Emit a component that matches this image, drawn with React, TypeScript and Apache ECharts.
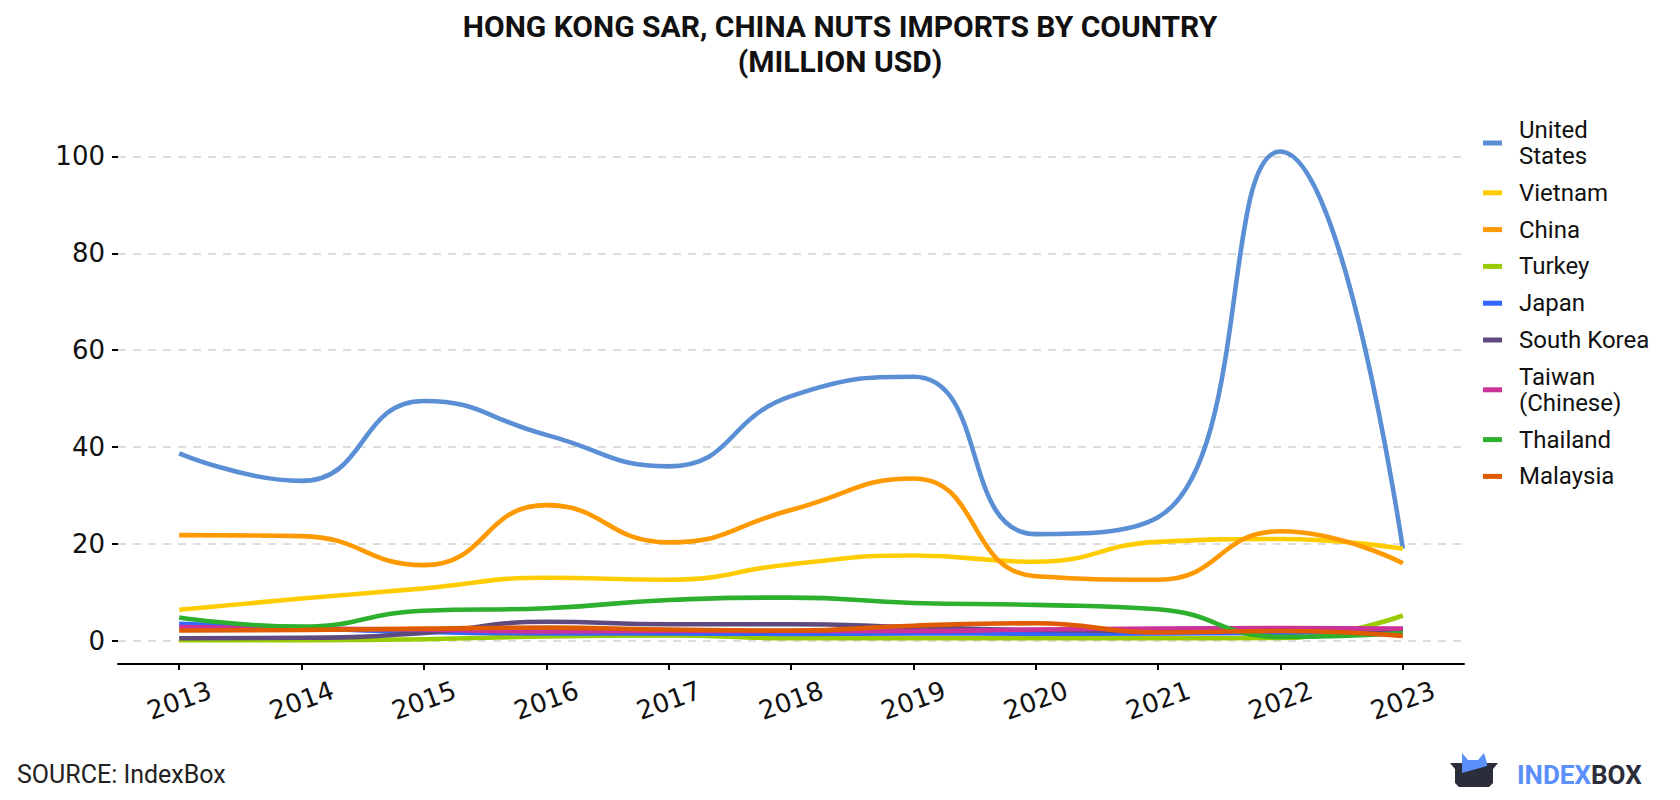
import React, { useEffect, useRef } from "react";
import * as echarts from "echarts";

const years = ["2013", "2014", "2015", "2016", "2017", "2018", "2019", "2020", "2021", "2022", "2023"];
const yTicks = [0, 20, 40, 60, 80, 100];

const seriesNames = ["United States", "Vietnam", "China", "Turkey", "Japan", "South Korea", "Taiwan (Chinese)", "Thailand", "Malaysia"];
const seriesColors = ["#5a8fd5", "#ffcc00", "#ff9900", "#99cc00", "#3366ff", "#5e4a7e", "#cc3399", "#2db02d", "#e05a00"];

const unitedStates = [38.7, 33.0, 49.5, 42.5, 36.0, 50.5, 54.5, 22.0, 25.5, 101.0, 19.0];
const vietnam = [6.4, 8.7, 10.8, 13.0, 12.6, 15.8, 17.6, 16.3, 20.4, 21.0, 19.0];
const china = [21.8, 21.6, 15.6, 28.0, 20.3, 27.0, 33.5, 13.3, 12.6, 22.6, 16.0];
const turkey = [0.1, 0.1, 0.3, 0.9, 1.1, 0.5, 0.5, 0.5, 0.5, 0.55, 5.2];
const japan = [3.5, 2.6, 1.8, 1.5, 1.5, 1.4, 1.5, 1.45, 1.5, 1.6, 2.4];
const southKorea = [0.5, 0.6, 1.6, 3.9, 3.4, 3.4, 2.8, 2.2, 2.0, 2.1, 2.2];
const taiwan = [2.8, 2.5, 2.3, 1.9, 2.0, 2.0, 2.0, 2.3, 2.5, 2.6, 2.5];
const thailand = [4.8, 2.9, 6.2, 6.7, 8.4, 8.9, 7.8, 7.4, 6.5, 0.8, 1.6];
const malaysia = [2.1, 2.2, 2.5, 2.7, 2.3, 2.1, 3.1, 3.6, 1.7, 2.0, 1.0];

const seriesData = [unitedStates, vietnam, china, turkey, japan, southKorea, taiwan, thailand, malaysia];

const legendLabels: Record<string, string> = {
  "United States": "United\nStates",
  "Taiwan (Chinese)": "Taiwan\n(Chinese)",
};

export default function App() {
  const ref = useRef<HTMLDivElement>(null);

  useEffect(() => {
    document.body.style.margin = "0";
    if (!ref.current) return;
    const chart = echarts.init(ref.current, null, { renderer: "svg" });
    const option: any = {
      animation: false,
      backgroundColor: "#ffffff",
      title: {
        text: "HONG KONG SAR, CHINA NUTS IMPORTS BY COUNTRY\n(MILLION USD)",
        left: "center",
        top: 4,
        textStyle: {
          fontFamily: "Roboto",
          fontWeight: "bold",
          fontSize: 30,
          lineHeight: 35,
          color: "#111111",
        },
      },
      legend: {
        orient: "vertical",
        left: 1478,
        top: 112,
        icon: "rect",
        itemWidth: 19,
        itemHeight: 5,
        itemGap: 10.8,
        data: seriesNames,
        formatter: (name: string) => legendLabels[name] || name,
        textStyle: {
          fontFamily: "Roboto",
          fontSize: 24,
          lineHeight: 26,
          color: "#111111",
          padding: [0, 0, 0, 12],
        },
      },
      grid: {
        left: 118,
        right: 216,
        top: 156.4,
        bottom: 159.3,
        containLabel: false,
      },
      xAxis: {
        type: "category",
        data: years,
        boundaryGap: true,
        offset: 23.3,
        axisLine: { show: true, onZero: false, lineStyle: { color: "#000000", width: 2 } },
        axisTick: { show: true, alignWithLabel: true, length: 6, lineStyle: { color: "#000000", width: 2 } },
        axisLabel: {
          interval: 0,
          rotate: 20,
          align: "center",
          verticalAlign: "middle",
          margin: 36.5,
          fontFamily: "DejaVu Sans",
          fontSize: 26,
          color: "#111111",
        },
        splitLine: { show: false },
      },
      yAxis: {
        type: "value",
        min: yTicks[0],
        max: yTicks[yTicks.length - 1],
        interval: 20,
        axisLine: { show: false },
        axisTick: { show: true, length: 6, lineStyle: { color: "#000000", width: 2 } },
        axisLabel: {
          margin: 13,
          fontFamily: "DejaVu Sans",
          fontSize: 26,
          color: "#111111",
        },
        splitLine: {
          show: true,
          lineStyle: { color: "#dddddd", width: 2, type: [8, 7] },
        },
      },
      series: seriesNames.map((name, i) => ({
        name,
        type: "line",
        data: seriesData[i],
        smooth: 0.5,
        showSymbol: false,
        symbol: "none",
        clip: false,
        color: seriesColors[i],
        lineStyle: { width: 4.6, color: seriesColors[i] },
        emphasis: { disabled: true },
      })),
      graphic: [
        {
          type: "text",
          left: 17,
          top: 762,
          style: {
            text: "SOURCE: IndexBox",
            fontFamily: "Roboto",
            fontSize: 25,
            fill: "#222222",
          },
        },
        {
          type: "polygon",
          shape: {
            points: [
              [1450, 763], [1498, 763], [1493, 769], [1493, 783], [1489, 787],
              [1459, 787], [1455, 783], [1455, 769],
            ],
          },
          style: { fill: "#2b2d3a" },
        },
        {
          type: "polygon",
          shape: {
            points: [
              [1462, 753], [1468, 760], [1478, 760], [1484, 753], [1487, 763],
              [1487, 766], [1462, 773],
            ],
          },
          style: { fill: "#5b8ff9" },
        },
        {
          type: "text",
          x: 1517,
          y: 775,
          style: {
            text: "INDEX",
            fontFamily: "Roboto",
            fontWeight: "bold",
            fontSize: 26,
            fill: "#5b8ff9",
            verticalAlign: "middle",
          },
        },
        {
          type: "text",
          x: 1591,
          y: 775,
          style: {
            text: "BOX",
            fontFamily: "Roboto",
            fontWeight: "bold",
            fontSize: 26,
            fill: "#2b2d3a",
            verticalAlign: "middle",
          },
        },
      ],
    };
    chart.setOption(option);
    return () => {
      chart.dispose();
    };
  }, []);

  return <div ref={ref} style={{ width: 1680, height: 800 }} />;
}
